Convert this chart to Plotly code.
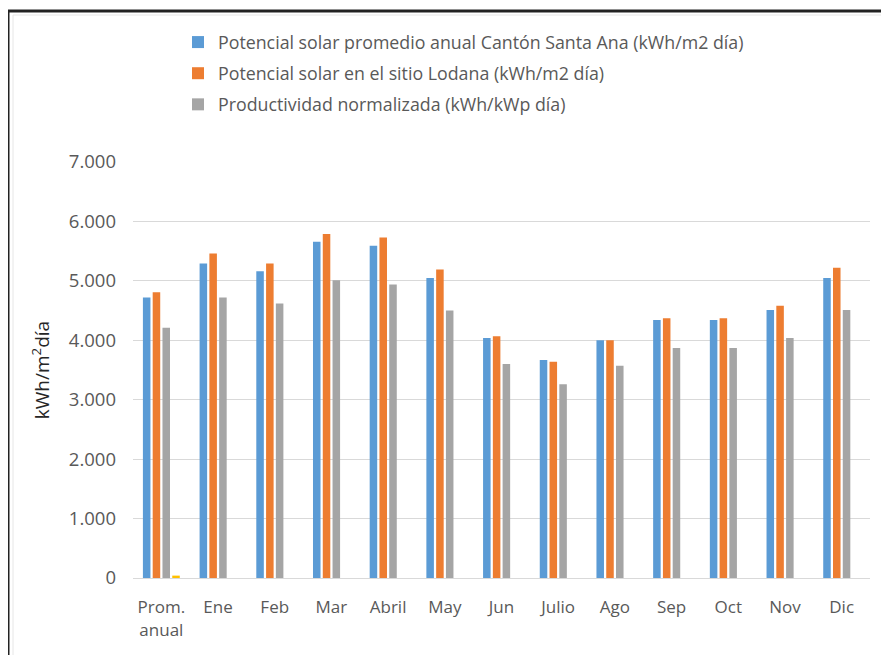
import plotly.graph_objects as go

categories = ["Prom.<br>anual", "Ene", "Feb", "Mar", "Abril", "May", "Jun",
              "Julio", "Ago", "Sep", "Oct", "Nov", "Dic"]
santa_ana = [4.72, 5.29, 5.16, 5.66, 5.59, 5.05, 4.04, 3.67, 4.00, 4.34, 4.34, 4.51, 5.05]
lodana = [4.81, 5.46, 5.29, 5.79, 5.73, 5.19, 4.07, 3.64, 4.00, 4.37, 4.37, 4.58, 5.22]
productividad = [4.21, 4.72, 4.62, 5.01, 4.94, 4.50, 3.60, 3.26, 3.57, 3.87, 3.87, 4.04, 4.51]
cuarta_serie = [0.04] + [None] * 12

y_tickvals = [0, 1, 2, 3, 4, 5, 6, 7]
y_ticktext = ["0", "1.000", "2.000", "3.000", "4.000", "5.000", "6.000", "7.000"]

names = ["Potencial solar promedio anual Cantón Santa Ana (kWh/m2 día)",
         "Potencial solar en el sitio Lodana (kWh/m2 día)",
         "Productividad normalizada (kWh/kWp día)"]
colors = ["#5B9BD5", "#ED7D31", "#A5A5A5", "#FFC000"]

fig = go.Figure()
for i, (nm, vals) in enumerate(zip(names, [santa_ana, lodana, productividad])):
    fig.add_trace(go.Bar(x=categories, y=vals, name=nm, marker_color=colors[i],
                         marker_line_width=0, legendgroup=f"g{i}"))
fig.add_trace(go.Bar(x=categories, y=cuarta_serie, name="", marker_color=colors[3],
                     marker_line_width=0, showlegend=False))

PW, PH = 737, 416  # plot area size in px
font_family = "Open Sans, DejaVu Sans, sans-serif"
fig.update_layout(
    width=889, height=655,
    margin=dict(l=125, r=27, t=154, b=85, autoexpand=False),
    paper_bgcolor="white", plot_bgcolor="white",
    barmode="group", bargap=0.31, bargroupgap=0.23,
    font=dict(family=font_family, size=17, color="#595959"),
    legend=dict(x=(178 - 133) / PW, y=1 + (162 - 24) / PH, xref="paper", yref="paper",
                yanchor="top", xanchor="left",
                font=dict(size=17.8, color="#595959"), tracegroupgap=5,
                traceorder="grouped", bgcolor="rgba(0,0,0,0)"),
    showlegend=True,
    xaxis=dict(showgrid=False, showline=True, linecolor="#d9d9d9", ticks="",
               tickangle=0,
               tickfont=dict(size=17, color="#595959"), ticklabelstandoff=14),
    yaxis=dict(range=[0, 7], tickvals=y_tickvals, ticktext=y_ticktext,
               showgrid=True, gridcolor="#d9d9d9", gridwidth=1, zeroline=False,
               showline=False, ticks="", ticklabelstandoff=16,
               tickfont=dict(size=18.5, color="#595959"),
               title=dict(text="kWh/m<sup>2</sup>día", standoff=14,
                          font=dict(size=19, color="#262626"))),
)

# frame around the chart
fig.add_shape(type="line", xref="paper", yref="paper",
              x0=-125/PW, x1=1 + 27/PW, y0=1 + 151/PH, y1=1 + 151/PH,
              line=dict(color="#222222", width=3))
fig.add_shape(type="line", xref="paper", yref="paper",
              x0=-125/PW, x1=-125/PW, y0=-85/PH, y1=1 + 151/PH,
              line=dict(color="#222222", width=3))
fig.add_shape(type="line", xref="paper", yref="paper",
              x0=-120/PW, x1=1 + 27/PW, y0=1 + 147/PH, y1=1 + 147/PH,
              line=dict(color="#e6e6e6", width=1))
fig.add_shape(type="line", xref="paper", yref="paper",
              x0=-120/PW, x1=-120/PW, y0=-85/PH, y1=1 + 147/PH,
              line=dict(color="#e6e6e6", width=1))

fig.write_html("out.html")
